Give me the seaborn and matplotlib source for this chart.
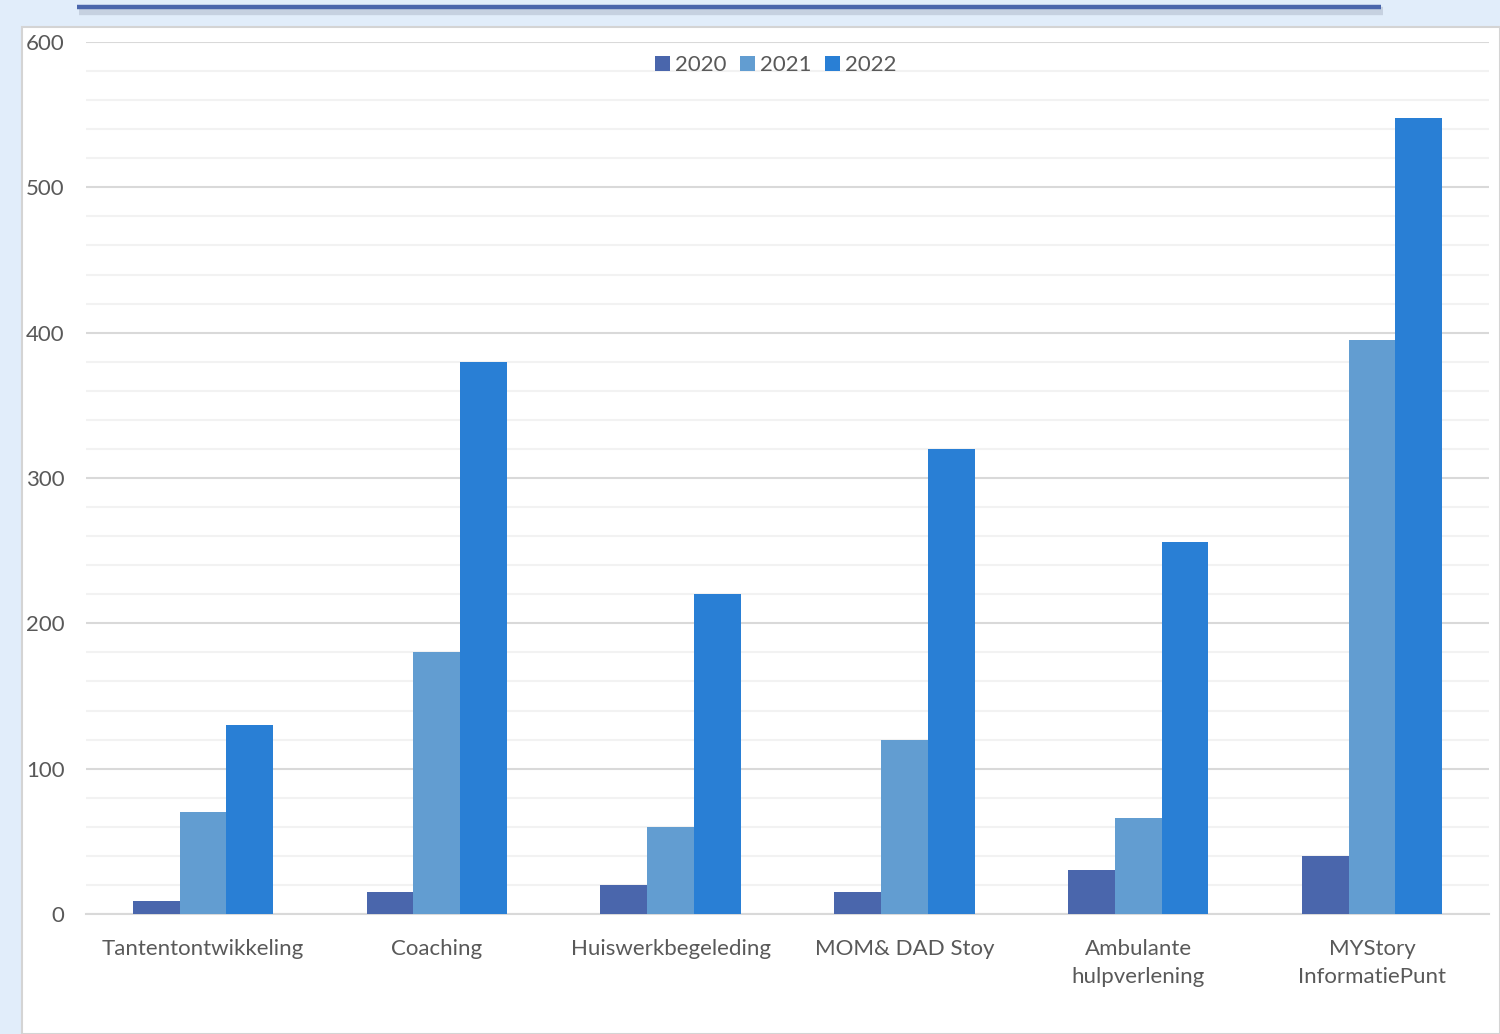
import matplotlib
matplotlib.use("Agg")
import matplotlib.pyplot as plt
import seaborn as sns
import pandas as pd
from matplotlib.patches import Rectangle
from matplotlib.lines import Line2D
from matplotlib.ticker import MultipleLocator

categories = ["Tantentontwikkeling", "Coaching", "Huiswerkbegeleding",
              "MOM& DAD Stoy", "Ambulante\nhulpverlening", "MYStory\nInformatiePunt"]
years = ["2020", "2021", "2022"]
v2020 = [9, 15, 20, 15, 30, 40]
v2021 = [70, 180, 60, 120, 66, 395]
v2022 = [130, 380, 220, 320, 256, 548]
colors = ["#4A66AC", "#629DD1", "#297FD5"]

rows = []
for yr, vals in zip(years, [v2020, v2021, v2022]):
    for c, v in zip(categories, vals):
        rows.append({"cat": c, "year": yr, "value": v})
df = pd.DataFrame(rows)

sns.set_theme(style="white")
plt.rcParams["font.family"] = ["Lato", "DejaVu Sans"]
text_color = "#595959"
fs = 16

fig = plt.figure(figsize=(15, 10.34), dpi=100, facecolor="#E1EDFA")
# white panel
W, H = 1500, 1034
panel = Rectangle((22 / W, 0), 1 - 22 / W, 1 - 27 / H, transform=fig.transFigure,
                  facecolor="white", edgecolor="#D4D4D4", linewidth=1.5, zorder=-10)
fig.patches.append(panel)
# top decorative line with shadow
fig.add_artist(Line2D([79 / W, 1383 / W], [1 - 11 / H, 1 - 11 / H], transform=fig.transFigure,
                      color="#B4BFCF", linewidth=6, alpha=0.6, solid_capstyle="butt", zorder=-5))
fig.add_artist(Line2D([77 / W, 1381 / W], [1 - 6.5 / H, 1 - 6.5 / H], transform=fig.transFigure,
                      color="#4A66AC", linewidth=3.2, solid_capstyle="butt", zorder=-4))

ax = fig.add_axes([86 / W, 1 - 914 / H, (1489 - 86) / W, (914 - 42) / H], zorder=1)
ax.set_facecolor("none")
sns.barplot(data=df, x="cat", y="value", hue="year", palette=colors, width=0.6,
            gap=0, linewidth=0, saturation=1, ax=ax, zorder=3)

ax.set_ylim(0, 600)
ax.set_xlim(-0.5, len(categories) - 0.5)
ax.yaxis.set_major_locator(MultipleLocator(100))
ax.yaxis.set_minor_locator(MultipleLocator(20))
ax.grid(axis="y", which="minor", color="#F2F2F2", linewidth=1.5, zorder=0)
ax.grid(axis="y", which="major", color="#D9D9D9", linewidth=1.5, zorder=0)
ax.set_axisbelow(True)
for s in ["top", "right", "left"]:
    ax.spines[s].set_visible(False)
ax.spines["bottom"].set_color("#D9D9D9")
ax.spines["bottom"].set_linewidth(1.5)
ax.set_xlabel("")
ax.set_ylabel("")
ax.tick_params(axis="y", which="both", length=0, pad=15.5, labelsize=fs, labelcolor=text_color)
ax.tick_params(axis="x", length=0, pad=18, labelsize=fs, labelcolor=text_color)
for lab in ax.get_xticklabels():
    lab.set_linespacing(1.5)

handles, labels = ax.get_legend_handles_labels()
ax.legend(handles, labels, loc="center", bbox_to_anchor=(776 / W, 1 - 65 / H),
          bbox_transform=fig.transFigure, ncol=3, frameon=False, fontsize=fs,
          handlelength=0.65, handleheight=0.65, handletextpad=0.25, columnspacing=0.6,
          labelcolor=text_color)

fig.savefig("out.png", dpi=100, facecolor=fig.get_facecolor())
